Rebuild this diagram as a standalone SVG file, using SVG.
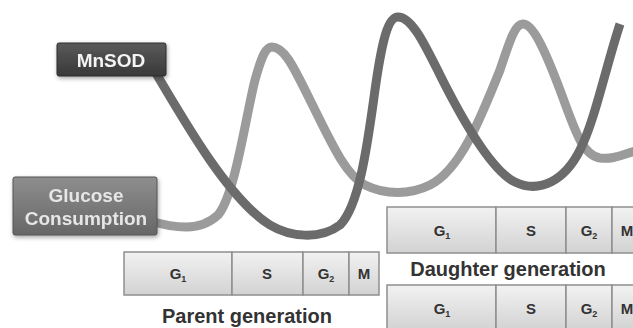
<svg xmlns="http://www.w3.org/2000/svg" width="633" height="328" viewBox="0 0 633 328">
  <defs>
    <linearGradient id="gCell" x1="0" y1="0" x2="0" y2="1">
      <stop offset="0" stop-color="#f2f2f2"/>
      <stop offset="1" stop-color="#d2d2d2"/>
    </linearGradient>
    <linearGradient id="gDark" x1="0" y1="0" x2="0" y2="1">
      <stop offset="0" stop-color="#5a5a5a"/>
      <stop offset="1" stop-color="#383838"/>
    </linearGradient>
    <linearGradient id="gMid" x1="0" y1="0" x2="0" y2="1">
      <stop offset="0" stop-color="#8e8e8e"/>
      <stop offset="1" stop-color="#676767"/>
    </linearGradient>
    <filter id="shadow" x="-20%" y="-30%" width="140%" height="170%">
      <feDropShadow dx="1" dy="2" stdDeviation="2" flood-color="#000" flood-opacity="0.35"/>
    </filter>
  </defs>
  <style>
    .cell { fill: url(#gCell); stroke: #8f8f8f; stroke-width: 1.5; }
    .ct { font-family: "Liberation Sans", Arial, sans-serif; font-weight: bold; font-size: 15px; fill: #333; text-anchor: middle; }
    .sub { font-size: 9px; }
    .gen { font-family: "Liberation Sans", Arial, sans-serif; font-weight: bold; font-size: 20px; fill: #333; text-anchor: middle; }
    .lbl { font-family: "Liberation Sans", Arial, sans-serif; font-weight: bold; font-size: 19px; text-anchor: middle; }
    .curve { fill: none; stroke-width: 9; stroke-linecap: butt; stroke-linejoin: round; }
  </style>
  <rect width="633" height="328" fill="#fff"/>

  <g id="connectors">
    <path class="curve" stroke="#9b9b9b" d="M 150 221 C 175 228, 200 232, 218 215 C 235 195, 245 120, 255 80 C 262 55, 266 47, 272 47 C 285 47, 295 70, 310 100 C 330 140, 345 175, 365 185 C 385 195, 410 195, 430 185 C 460 170, 480 120, 500 70 C 510 40, 515 24, 523 24 C 533 24, 545 50, 560 90 C 575 130, 582 155, 600 158 C 615 160, 625 153, 640 150"/>
    <path class="curve" stroke="#6b6b6b" d="M 150 63 C 188 128, 230 200, 270 225 C 290 237, 320 240, 340 225 C 360 205, 368 140, 375 90 C 382 40, 388 17, 398 17 C 412 17, 425 45, 440 75 C 460 115, 490 170, 515 182 C 540 194, 565 180, 580 150 C 595 120, 605 70, 620 24"/>
  </g>

  <g id="node-mnsod" filter="url(#shadow)">
    <rect x="57" y="43" width="109" height="33" rx="2" fill="url(#gDark)" stroke="#2e2e2e" stroke-width="1"/>
    <text class="lbl" x="111" y="67" font-size="20" fill="#f4f4f4">MnSOD</text>
  </g>

  <g id="node-glucose" filter="url(#shadow)">
    <rect x="13" y="177" width="144" height="58" rx="2" fill="url(#gMid)" stroke="#555" stroke-width="1"/>
    <text class="lbl" x="86" y="202" fill="#e6e6e6">Glucose</text>
    <text class="lbl" x="86" y="225" fill="#e6e6e6">Consumption</text>
  </g>

  <g id="node-parent-bar">
    <rect class="cell" x="124" y="252" width="108" height="43"/>
    <rect class="cell" x="232" y="252" width="71" height="43"/>
    <rect class="cell" x="303" y="252" width="46" height="43"/>
    <rect class="cell" x="349" y="252" width="30" height="43"/>
    <text class="ct" x="178" y="279">G<tspan class="sub" dy="3">1</tspan></text>
    <text class="ct" x="267" y="279">S</text>
    <text class="ct" x="326" y="279">G<tspan class="sub" dy="3">2</tspan></text>
    <text class="ct" x="364" y="279">M</text>
  </g>
  <g id="label-parent">
    <text class="gen" x="247" y="323" font-size="22">Parent generation</text>
  </g>

  <g id="node-daughter-bar-1">
    <rect class="cell" x="387" y="207" width="109" height="46"/>
    <rect class="cell" x="496" y="207" width="70" height="46"/>
    <rect class="cell" x="566" y="207" width="46" height="46"/>
    <rect class="cell" x="612" y="207" width="30" height="46"/>
    <text class="ct" x="442" y="236">G<tspan class="sub" dy="3">1</tspan></text>
    <text class="ct" x="531" y="236">S</text>
    <text class="ct" x="589" y="236">G<tspan class="sub" dy="3">2</tspan></text>
    <text class="ct" x="627" y="236">M</text>
  </g>
  <g id="label-daughter">
    <text class="gen" x="508" y="276">Daughter generation</text>
  </g>

  <g id="node-daughter-bar-2">
    <rect class="cell" x="387" y="285" width="109" height="46"/>
    <rect class="cell" x="496" y="285" width="70" height="46"/>
    <rect class="cell" x="566" y="285" width="46" height="46"/>
    <rect class="cell" x="612" y="285" width="30" height="46"/>
    <text class="ct" x="442" y="314">G<tspan class="sub" dy="3">1</tspan></text>
    <text class="ct" x="531" y="314">S</text>
    <text class="ct" x="589" y="314">G<tspan class="sub" dy="3">2</tspan></text>
    <text class="ct" x="627" y="314">M</text>
  </g>
</svg>
